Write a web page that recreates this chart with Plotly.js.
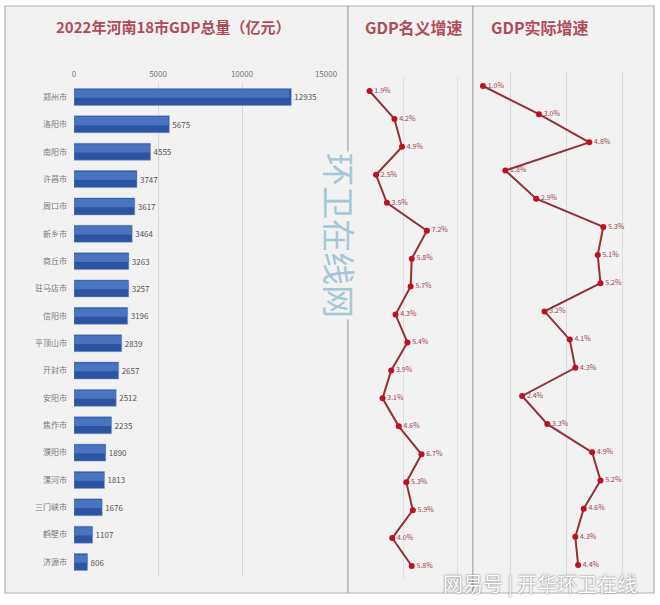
<!DOCTYPE html>
<html>
<head>
<meta charset="utf-8">
<script src="https://cdn.plot.ly/plotly-3.0.1.min.js"></script>
<style>html,body{margin:0;padding:0;background:#fff;}#chart{width:660px;height:605px;}</style>
</head>
<body>
<div id="chart"></div>
<script>
const cities = ["郑州市","洛阳市","南阳市","许昌市","周口市","新乡市","商丘市","驻马店市","信阳市","平顶山市","开封市","安阳市","焦作市","濮阳市","漯河市","三门峡市","鹤壁市","济源市"];
const gdpTotal = [12935,5675,4555,3747,3617,3464,3263,3257,3196,2839,2657,2512,2235,1890,1813,1676,1107,806];
const nominalGrowth = [1.9,4.2,4.9,2.5,3.5,7.2,5.8,5.7,4.3,5.4,3.9,3.1,4.6,6.7,5.3,5.9,4.0,5.8];
const realGrowth = [1.0,3.0,4.8,1.8,2.9,5.3,5.1,5.2,3.2,4.1,4.3,2.4,3.3,4.9,5.2,4.6,4.3,4.4];
const gdpTicks = [0,5000,10000,15000];
const titles = ["2022年河南18市GDP总量（亿元）","GDP名义增速","GDP实际增速"];

const W = 660, H = 605;
const px = v => v / W;
const py = v => 1 - v / H;
const idx = cities.map((c, i) => i);
const FONT = '"Noto Sans CJK SC", "Noto Sans", sans-serif';

const traces = [
  {type:'bar', orientation:'h', x:gdpTotal, y:idx, xaxis:'x', yaxis:'y', width:0.62,
   marker:{color:'#2d54a3', line:{color:'#7d9ad0', width:0.5}},
   text:gdpTotal.map(String), textposition:'outside', cliponaxis:false,
   textfont:{size:8, color:'#555555', family:FONT}, hoverinfo:'skip'},
  {type:'bar', orientation:'h', x:gdpTotal.map(v=>v*0.99), y:idx, xaxis:'x', yaxis:'y', width:0.3, offset:-0.27,
   marker:{color:'#4a74c0', line:{width:0}}, hoverinfo:'skip'},
  {type:'scatter', mode:'lines+markers+text', x:nominalGrowth, y:idx, xaxis:'x2', yaxis:'y2',
   line:{color:'#94303a', width:2}, marker:{color:'#c0101e', size:6},
   text:nominalGrowth.map(v=>v.toFixed(1)+'%'), textposition:'middle right', cliponaxis:false,
   textfont:{size:7, color:'#a3404c', family:FONT}, hoverinfo:'skip'},
  {type:'scatter', mode:'lines+markers+text', x:realGrowth, y:idx, xaxis:'x3', yaxis:'y3',
   line:{color:'#94303a', width:2}, marker:{color:'#c0101e', size:6},
   text:realGrowth.map(v=>v.toFixed(1)+'%'), textposition:'middle right', cliponaxis:false,
   textfont:{size:7, color:'#a3404c', family:FONT}, hoverinfo:'skip'}
];

const panel = (x0, x1) => ({type:'rect', xref:'paper', yref:'paper', x0:px(x0), x1:px(x1), y0:py(593), y1:py(6),
  fillcolor:'#f2f2f2', line:{color:'#a9b1ba', width:1.2}, layer:'below'});

const ann = (text, x, y, font, extra) => Object.assign({text:text, xref:'paper', yref:'paper', x:px(x), y:py(y),
  xanchor:'center', yanchor:'middle', showarrow:false, font:font}, extra || {});

const layout = {
  width:W, height:H, margin:{l:0, r:0, t:0, b:0},
  paper_bgcolor:'#ffffff', plot_bgcolor:'rgba(0,0,0,0)',
  showlegend:false, barmode:'overlay', font:{family:FONT},
  xaxis:{domain:[px(74), px(326)], range:[0,15000], side:'top', anchor:'y',
    tickvals:gdpTicks, ticktext:gdpTicks.map(String), ticks:'', showline:false, zeroline:false,
    showgrid:true, gridcolor:'#d8d8d8', gridwidth:1, tickfont:{size:8, color:'#777777'}, ticklabelstandoff:4},
  yaxis:{domain:[py(575.7), py(83.3)], range:[17.5,-0.5], anchor:'x',
    tickvals:idx, ticktext:cities, ticks:'', showline:false, zeroline:false, showgrid:false,
    tickfont:{size:8, color:'#7a7a7a'}, ticklabelstandoff:6},
  xaxis2:{domain:[px(349), px(468)], range:[0,11], anchor:'y2', showticklabels:false, ticks:'',
    dtick:5, tick0:0, showgrid:true, gridcolor:'#e0e0e0', zeroline:false, showline:false},
  yaxis2:{domain:[py(580), py(77)], range:[17.5,-0.5], anchor:'x2', showticklabels:false,
    showgrid:false, zeroline:false, showline:false},
  xaxis3:{domain:[px(474), px(652)], range:[0.68,7.04], anchor:'y3', showticklabels:false, ticks:'',
    dtick:2, tick0:0, showgrid:true, gridcolor:'#dcdcdc', zeroline:false, showline:false},
  yaxis3:{domain:[py(579.1), py(71.9)], range:[17.5,-0.5], anchor:'x3', showticklabels:false,
    showgrid:false, zeroline:false, showline:false},
  shapes:[panel(5,348), panel(348,473), panel(473,654)],
  annotations:[
    ann('<b>'+titles[0]+'</b>', 173, 27, {size:15, color:'#b04c58', family:FONT}),
    ann('<b>'+titles[1]+'</b>', 414, 27, {size:16, color:'#b04c58', family:FONT}),
    ann('<b>'+titles[2]+'</b>', 540, 27, {size:16, color:'#b04c58', family:FONT}),
    ann('环卫在线网', 340, 235, {size:33, color:'#a3c8d5', family:FONT}, {textangle:90, bgcolor:'#f2f2f2'}),
    ann('网易号 | 开华环卫在线', 540, 583, {size:20, color:'#ffffff', family:FONT, shadow:'0px 0px 2px #555'})
  ]
};

Plotly.newPlot('chart', traces, layout, {displayModeBar:false, staticPlot:true});
</script>
</body>
</html>
